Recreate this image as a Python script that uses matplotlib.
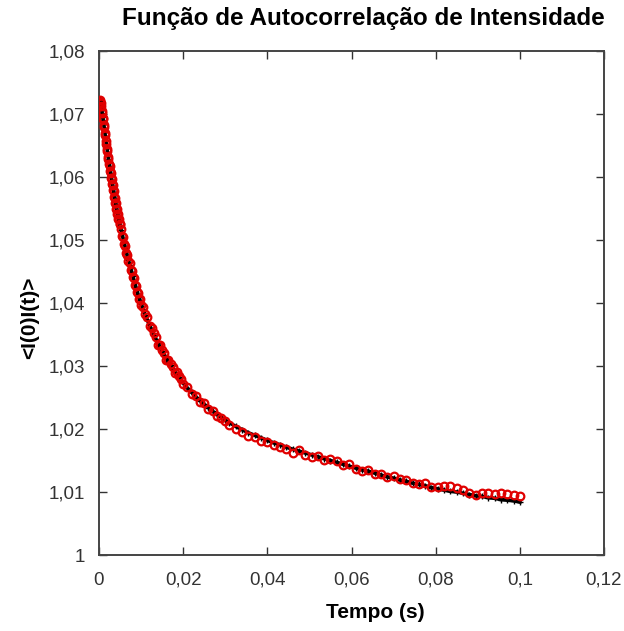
import matplotlib
matplotlib.use("Agg")
import matplotlib.pyplot as plt

# time grid (s) shared by the measured points and the fitted curve
# (correlator channels are denser at short lag times)
tempo = [
    0.000125, 0.00025, 0.000375, 0.0005, 0.000625, 0.00075, 0.000875, 0.0010,
    0.001125, 0.00125, 0.001375, 0.0015, 0.001625, 0.00175, 0.001875, 0.0020,
    0.002125, 0.00225, 0.002375, 0.0025, 0.002625, 0.00275, 0.002875, 0.0030,
    0.003125, 0.00325, 0.003375, 0.0035, 0.003625, 0.00375, 0.003875, 0.0040,
    0.004125, 0.00425, 0.004375, 0.0045, 0.004625, 0.00475, 0.004875, 0.0050,
    0.00525, 0.0055, 0.00575, 0.0060, 0.00625, 0.0065, 0.00675, 0.0070, 0.00725, 0.0075,
    0.00775, 0.0080, 0.00825, 0.0085, 0.00875, 0.0090, 0.00925, 0.0095, 0.00975, 0.0100,
    0.0105, 0.0110, 0.0115, 0.0120, 0.0125, 0.0130, 0.0135, 0.0140, 0.0145, 0.0150,
    0.0155, 0.0160, 0.0165, 0.0170, 0.0175, 0.0180, 0.0185, 0.0190, 0.0195, 0.0200,
    0.021, 0.022, 0.023, 0.024, 0.025, 0.026, 0.027, 0.028, 0.029, 0.030,
    0.0310, 0.0325, 0.0340, 0.0355, 0.0370, 0.0385, 0.0400, 0.0415, 0.0430, 0.0445,
    0.0460, 0.0475, 0.0490, 0.0505, 0.0520, 0.0535, 0.0550, 0.0565, 0.0580, 0.0595,
    0.0610, 0.0625, 0.0640, 0.0655, 0.0670, 0.0685, 0.0700, 0.0715, 0.0730, 0.0745,
    0.0760, 0.0775, 0.0790, 0.0805, 0.0820, 0.0835, 0.0850, 0.0865, 0.0880, 0.0895,
    0.0910, 0.0925, 0.0940, 0.0955, 0.0970, 0.0985, 0.1000,
]

# measured intensity autocorrelation (red circles)
medido = [
    1.0722, 1.0719, 1.0717, 1.0713, 1.0705, 1.0702, 1.0694, 1.0692,
    1.0683, 1.0679, 1.0670, 1.0666, 1.0657, 1.0653, 1.0644, 1.0641,
    1.0632, 1.0629, 1.0620, 1.0618, 1.0609, 1.0607, 1.0599, 1.0597,
    1.0589, 1.0587, 1.0579, 1.0577, 1.0569, 1.0567, 1.0559, 1.0558,
    1.0550, 1.0549, 1.0542, 1.0541, 1.0534, 1.0533, 1.0526, 1.0525,
    1.0518, 1.0507, 1.0504, 1.0493, 1.0490, 1.0479, 1.0476, 1.0466, 1.0463, 1.0453,
    1.0451, 1.0441, 1.0439, 1.0429, 1.0427, 1.0418, 1.0416, 1.0407, 1.0406, 1.0397,
    1.0393, 1.0383, 1.0377, 1.0363, 1.0361, 1.0352, 1.0346, 1.0334, 1.0333, 1.0326,
    1.0321, 1.0310, 1.0309, 1.0303, 1.0299, 1.0289, 1.0290, 1.0284, 1.0280, 1.0271,
    1.0267, 1.0256, 1.0253, 1.0243, 1.0241, 1.0232, 1.0229, 1.0221, 1.0218, 1.0212,
    1.0207, 1.0200, 1.0195, 1.0189, 1.0187, 1.0181, 1.0180, 1.0175, 1.0171, 1.0169,
    1.0162, 1.0166, 1.0159, 1.0155, 1.0157, 1.0151, 1.0153, 1.0149, 1.0143, 1.0145,
    1.0137, 1.0134, 1.0135, 1.0129, 1.0128, 1.0124, 1.0125, 1.0120, 1.0119, 1.0115,
    1.0112, 1.0114, 1.0108, 1.0108, 1.0110, 1.0109, 1.0106, 1.0103, 1.0098, 1.0096,
    1.0099, 1.0098, 1.0097, 1.0098, 1.0097, 1.0095, 1.0093,
]

# fitted curve (black)
ajuste = [
    1.0724, 1.0720, 1.0716, 1.0712, 1.0707, 1.0701, 1.0696, 1.0690,
    1.0684, 1.0678, 1.0672, 1.0665, 1.0658, 1.0652, 1.0646, 1.0640,
    1.0634, 1.0628, 1.0622, 1.0617, 1.0611, 1.0606, 1.0601, 1.0596,
    1.0591, 1.0586, 1.0581, 1.0576, 1.0571, 1.0566, 1.0561, 1.0557,
    1.0552, 1.0548, 1.0544, 1.0540, 1.0536, 1.0532, 1.0528, 1.0524,
    1.0516, 1.0509, 1.0502, 1.0495, 1.0488, 1.0481, 1.0474, 1.0468, 1.0461, 1.0455,
    1.0449, 1.0443, 1.0437, 1.0431, 1.0425, 1.0420, 1.0414, 1.0409, 1.0404, 1.0399,
    1.0390, 1.0381, 1.0373, 1.0365, 1.0357, 1.0350, 1.0343, 1.0336, 1.0330, 1.0324,
    1.0318, 1.0312, 1.0306, 1.0301, 1.0296, 1.0291, 1.0286, 1.0282, 1.0277, 1.0273,
    1.0265, 1.0258, 1.0251, 1.0245, 1.0239, 1.0234, 1.0228, 1.0223, 1.0219, 1.0214,
    1.0210, 1.0204, 1.0199, 1.0194, 1.0190, 1.0186, 1.0182, 1.0178, 1.0175, 1.0171,
    1.0168, 1.0165, 1.0162, 1.0159, 1.0156, 1.0153, 1.0150, 1.0147, 1.0144, 1.0141,
    1.0138, 1.0135, 1.0133, 1.0130, 1.0127, 1.0124, 1.0122, 1.0119, 1.0117, 1.0114,
    1.0112, 1.0110, 1.0107, 1.0105, 1.0103, 1.0101, 1.0100, 1.0098, 1.0096, 1.0094,
    1.0093, 1.0091, 1.0090, 1.0088, 1.0087, 1.0086, 1.0084,
]

xticks = [0, 0.02, 0.04, 0.06, 0.08, 0.10, 0.12]
xticklabels = ["0", "0,02", "0,04", "0,06", "0,08", "0,1", "0,12"]
yticks = [1.00, 1.01, 1.02, 1.03, 1.04, 1.05, 1.06, 1.07, 1.08]
yticklabels = ["1", "1,01", "1,02", "1,03", "1,04", "1,05", "1,06", "1,07", "1,08"]

plt.rcParams["font.family"] = ["Liberation Sans", "DejaVu Sans"]

W, H = 624, 631
fig = plt.figure(figsize=(W / 100, H / 100), dpi=100)
ax = fig.add_axes([99 / W, 1 - 555 / H, (604 - 99) / W, (555 - 51) / H])

# fit drawn first so the open circles sit on top of it
ax.plot(tempo, ajuste, color="black", linewidth=2.6, marker="+",
        markersize=4, markeredgewidth=1, zorder=2)
ax.plot(tempo, medido, linestyle="none", marker="o", markersize=5.5,
        markerfacecolor="none", markeredgecolor="#e00000",
        markeredgewidth=1.6, zorder=3)

ax.set_xlim(0, 0.12)
ax.set_ylim(1.0, 1.08)
ax.set_xticks(xticks)
ax.set_xticklabels(xticklabels)
ax.set_yticks(yticks)
ax.set_yticklabels(yticklabels)

ax.tick_params(direction="in", length=6, width=1, color="#333333",
               top=True, right=True, labelsize=13.5, labelcolor="#333333")
ax.tick_params(axis="x", pad=12)
ax.tick_params(axis="y", pad=10)
for s in ax.spines.values():
    s.set_color("#444444")
    s.set_linewidth(1.4)

fig.text(363 / W, 1 - 18 / H, "Função de Autocorrelação de Intensidade",
         ha="center", va="center", fontsize=17.5, fontweight="bold")
fig.text(375 / W, 1 - 613 / H, "Tempo (s)", ha="center", va="center",
         fontsize=15, fontweight="bold")
fig.text(30 / W, 1 - 318 / H, "<I(0)I(t)>", ha="center", va="center",
         rotation=90, fontsize=15, fontweight="bold")

fig.savefig("out.png", dpi=100)
